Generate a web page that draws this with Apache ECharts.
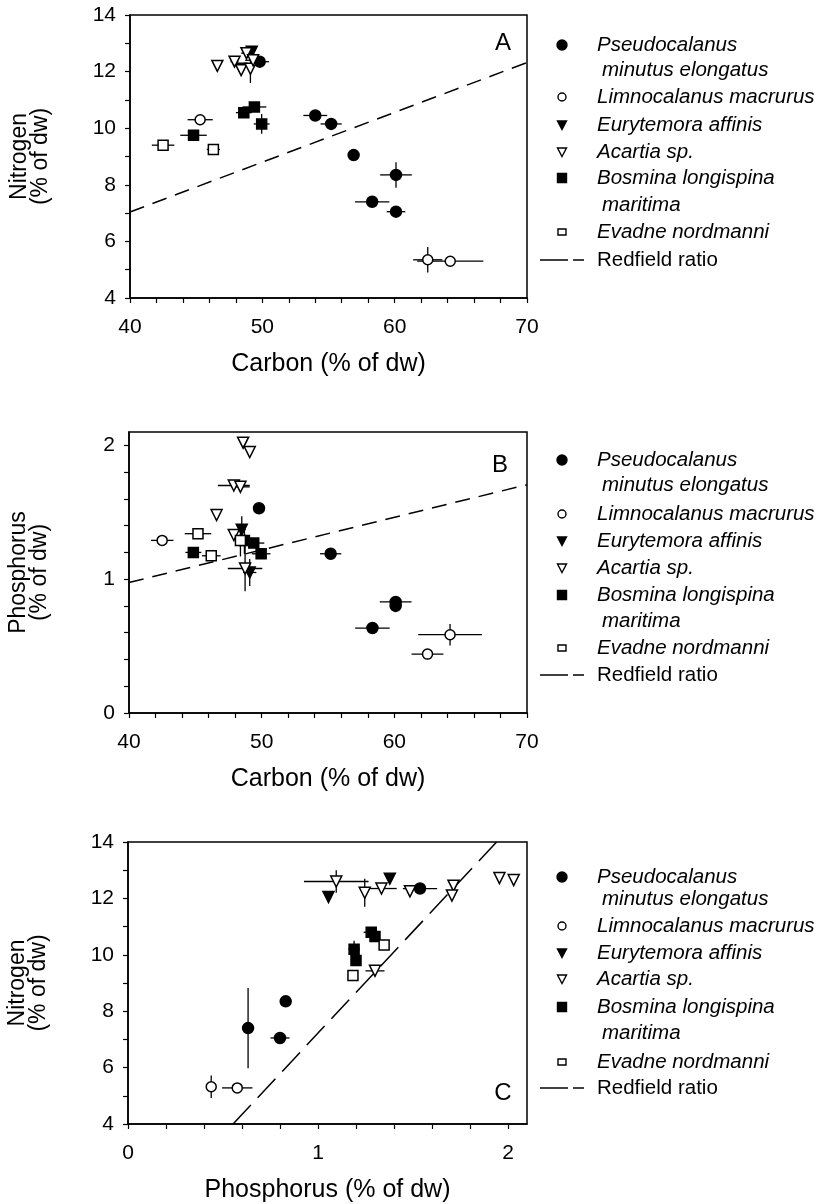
<!DOCTYPE html>
<html><head><meta charset="utf-8">
<script src="https://cdn.jsdelivr.net/npm/echarts@6/dist/echarts.min.js"></script>
<style>html,body{margin:0;padding:0;background:#fff}#c{width:825px;height:1204px}</style>
</head><body><div id="c"></div>
<script>
// ---------- DATA: [x, y, xErr, yErr] ----------
// Panel A: Carbon vs Nitrogen
const pseudoA   = [[54.0,10.45,0.9,0.1],[55.2,10.15,0.8,0],[56.9,9.05,0,0],[60.1,8.35,1.2,0.45],[58.3,7.4,1.3,0.15],[60.1,7.05,0.7,0],[49.8,12.35,0.7,0.1]];
const limnoA    = [[45.3,10.3,0.95,0],[62.5,5.35,1.1,0.45],[64.2,5.3,2.5,0]];
const eurytA    = [[48.4,12.1,0,0],[49.2,12.7,0,0]];
const acartiaA  = [[46.6,12.2,0,0],[47.9,12.35,0.3,0],[48.4,12.05,0,0],[48.8,12.65,0.4,0.1],[49.1,12.1,0,0.5],[49.3,12.4,0.6,0]];
const bosminaA  = [[44.8,9.75,1.0,0],[48.6,10.55,0.6,0],[49.4,10.75,0.9,0.1],[49.95,10.15,0.6,0.35]];
const evadneA   = [[42.5,9.4,0.85,0],[46.3,9.25,0.5,0.1]];
const redfieldA = [[40,7.04],[70,12.32]];

// Panel B: Carbon vs Phosphorus
const pseudoB   = [[49.8,1.53,0.3,0.04],[55.2,1.19,0.8,0],[60.1,0.83,1.2,0.03],[60.1,0.80,0,0],[58.35,0.635,1.3,0]];
const limnoB    = [[42.5,1.29,0.85,0.04],[62.5,0.44,1.2,0],[64.2,0.585,2.4,0.08]];
const eurytB    = [[48.5,1.37,0.3,0.1],[49.1,1.05,0.5,0.1]];
const acartiaB  = [[48.6,2.02,0,0],[49.1,1.95,0,0],[47.9,1.70,1.2,0],[48.4,1.69,0.7,0],[46.6,1.48,0,0],[47.9,1.33,0,0],[48.75,1.08,1.3,0.17]];
const bosminaB  = [[44.85,1.2,0.6,0],[48.7,1.29,0.5,0.1],[49.4,1.27,0.8,0],[49.96,1.19,0.7,0]];
const evadneB   = [[45.2,1.34,1.0,0],[46.2,1.175,0.7,0],[48.4,1.29,0.3,0.12]];
const redfieldB = [[40,0.975],[70,1.706]];

// Panel C: Phosphorus vs Nitrogen
const pseudoC   = [[1.537,12.35,0.09,0],[0.632,7.4,0,1.42],[0.83,8.35,0,0.15],[0.80,7.05,0.05,0]];
const limnoC    = [[0.438,5.32,0,0.4],[0.575,5.28,0.08,0]];
const eurytC    = [[1.055,12.05,0,0],[1.378,12.7,0,0]];
const acartiaC  = [[1.096,12.6,0.17,0.4],[1.246,12.2,0,0.5],[1.334,12.35,0.08,0],[1.484,12.25,0,0],[1.713,12.45,0,0],[1.705,12.1,0,0],[1.955,12.72,0,0],[2.03,12.65,0,0],[1.3,9.43,0.05,0]];
const bosminaC  = [[1.19,10.2,0.03,0.3],[1.2,9.8,0,0],[1.28,10.8,0.04,0],[1.3,10.65,0,0]];
const evadneC   = [[1.184,9.27,0,0],[1.348,10.35,0,0]];
const redfieldC = [[0.553,4],[1.94,14]];

// Ticks / labels
const carbonTicks   = [40,42,44,46,48,50,52,54,56,58,60,62,64,66,68,70];
const carbonLabels  = [40,50,60,70];
const nitroTicks    = [4,5,6,7,8,9,10,11,12,13,14];
const nitroLabels   = [4,6,8,10,12,14];
const phosTicks     = [0,0.2,0.4,0.6,0.8,1,1.2,1.4,1.6,1.8,2];
const phosLabels    = [0,1,2];

const speciesNames = [['Pseudocalanus','minutus elongatus'],['Limnocalanus macrurus'],['Eurytemora affinis'],['Acartia sp.'],['Bosmina longispina','maritima'],['Evadne nordmanni']];
const redfieldName = 'Redfield ratio';
const panelLetters = ['A','B','C'];
const xNames = ['Carbon (% of dw)','Carbon (% of dw)','Phosphorus (% of dw)'];
const yNames = ['Nitrogen\n(% of dw)','Phosphorus\n(% of dw)','Nitrogen\n(% of dw)'];

// ---------- STYLES ----------
const FONT = "'Liberation Sans', Arial, Helvetica, sans-serif";
const styles = [
  {symbol:'circle',   filled:true,  size:11, rot:0},
  {symbol:'circle',   filled:false, size:10, rot:0},
  {symbol:'triangle', filled:true,  size:11, rot:180},
  {symbol:'triangle', filled:false, size:11, rot:180},
  {symbol:'rect',     filled:true,  size:10, rot:0},
  {symbol:'rect',     filled:false, size:10, rot:0}
];

const grids = [
  {left:130, top:15,  width:397, height:283},
  {left:129, top:432, width:398, height:281},
  {left:128, top:842, width:399, height:283}
];

const panels = [
  {data:[pseudoA,limnoA,eurytA,acartiaA,bosminaA,evadneA], red:redfieldA, x:[40,70,carbonTicks,carbonLabels], y:[4,14,nitroTicks,nitroLabels], dash:[15,9]},
  {data:[pseudoB,limnoB,eurytB,acartiaB,bosminaB,evadneB], red:redfieldB, x:[40,70,carbonTicks,carbonLabels], y:[0,2.1,phosTicks,phosLabels], dash:[15,9]},
  {data:[pseudoC,limnoC,eurytC,acartiaC,bosminaC,evadneC], red:redfieldC, x:[0,2.1,phosTicks,phosLabels], y:[4,14,nitroTicks,nitroLabels], dash:[26,10]}
];

function errRender(params, api) {
  const x = api.value(0), y = api.value(1), xe = api.value(2), ye = api.value(3);
  const ch = [];
  const st = {stroke:'#000', lineWidth:1.3};
  if (xe > 0) {
    const a = api.coord([x - xe, y]), b = api.coord([x + xe, y]);
    ch.push({type:'line', shape:{x1:a[0], y1:a[1], x2:b[0], y2:b[1]}, style:st});
  }
  if (ye > 0) {
    const a = api.coord([x, y - ye]), b = api.coord([x, y + ye]);
    ch.push({type:'line', shape:{x1:a[0], y1:a[1], x2:b[0], y2:b[1]}, style:st});
  }
  return {type:'group', children:ch};
}

const xAxes = [], yAxes = [], series = [];
panels.forEach((p, i) => {
  const axisCommon = {
    type:'value', gridIndex:i, splitLine:{show:false},
    axisLine:{show:true, onZero:false, lineStyle:{color:'#000', width:1.5}},
    nameLocation:'middle'
  };
  xAxes.push(Object.assign({}, axisCommon, {
    min:p.x[0], max:p.x[1],
    axisTick:{show:true, inside:false, length:5, customValues:p.x[2], lineStyle:{color:'#000', width:1.2}},
    axisLabel:{customValues:p.x[3], color:'#000', fontSize:21, fontFamily:FONT, margin:19},
    name:xNames[i], nameGap:54,
    nameTextStyle:{color:'#000', fontFamily:FONT, fontSize:25}
  }));
  yAxes.push(Object.assign({}, axisCommon, {
    min:p.y[0], max:p.y[1],
    axisTick:{show:true, inside:false, length:5, customValues:p.y[2], lineStyle:{color:'#000', width:1.2}},
    axisLabel:{customValues:p.y[3], color:'#000', fontSize:21, fontFamily:FONT, margin:14},
    name:yNames[i], nameGap:79,
    nameTextStyle:{color:'#000', fontFamily:FONT, fontSize:23, lineHeight:21}
  }));
  // Redfield line
  series.push({
    type:'line', xAxisIndex:i, yAxisIndex:i, data:p.red, symbol:'none', clip:true, silent:true,
    lineStyle:{color:'#000', width:1.5, type:p.dash}, z:1
  });
  p.data.forEach((d, k) => {
    const s = styles[k];
    series.push({
      type:'custom', xAxisIndex:i, yAxisIndex:i, data:d, renderItem:errRender, clip:true, z:2,
      encode:{x:0, y:1}, silent:true
    });
    series.push({
      type:'scatter', xAxisIndex:i, yAxisIndex:i, data:d, encode:{x:0, y:1},
      symbol:s.symbol, symbolSize:s.size, symbolRotate:s.rot, z:3, silent:true,
      itemStyle:{color:s.filled ? '#000' : '#fff', borderColor:'#000', borderWidth:1.5, opacity:1}
    });
  });
});

// ---------- LEGENDS (drawn as graphics) ----------
const legendRows = [
  [45,70,97,125,152,178,205,232,260],
  [460,485,514,541,568,595,621,648,675],
  [877,899,926,953,979,1007,1033,1062,1088]
];
const letterPos = [[503,43],[500,465],[503,1093]];
const graphics = [];
function markerGraphic(k, cx, cy) {
  const s = styles[k];
  const fill = s.filled ? '#000' : '#fff';
  const st = {fill:fill, stroke:'#000', lineWidth:1.4};
  if (s.symbol === 'circle') return {type:'circle', shape:{cx:cx, cy:cy, r:s.filled?5:4}, style:st};
  if (s.symbol === 'rect') return s.filled ?
     {type:'rect', shape:{x:cx-4.5, y:cy-4.5, width:9, height:9}, style:st} :
     {type:'rect', shape:{x:cx-4, y:cy-3, width:8, height:6}, style:st};
  return {type:'polygon', shape:{points:[[cx-4.5,cy-4],[cx+4.5,cy-4],[cx,cy+4.5]]}, style:st};
}
panels.forEach((p, i) => {
  const r = legendRows[i];
  const rowIdx = [0,2,3,4,5,7];
  speciesNames.forEach((nm, k) => {
    const y0 = r[rowIdx[k]];
    graphics.push(markerGraphic(k, 562, y0));
    graphics.push({type:'text', x:597, y:y0, style:{text:nm[0], fill:'#000', font:'italic 20.5px ' + FONT, textVerticalAlign:'middle'}});
    if (nm[1]) graphics.push({type:'text', x:602, y:r[rowIdx[k]+1], style:{text:nm[1], fill:'#000', font:'italic 20.5px ' + FONT, textVerticalAlign:'middle'}});
  });
  const yr = r[8];
  graphics.push({type:'line', shape:{x1:540, y1:yr, x2:568, y2:yr}, style:{stroke:'#000', lineWidth:1.5}});
  graphics.push({type:'line', shape:{x1:573, y1:yr, x2:584, y2:yr}, style:{stroke:'#000', lineWidth:1.5}});
  graphics.push({type:'text', x:597, y:yr, style:{text:redfieldName, fill:'#000', font:'20.5px ' + FONT, textVerticalAlign:'middle'}});
  graphics.push({type:'text', x:letterPos[i][0], y:letterPos[i][1], style:{text:panelLetters[i], fill:'#000', font:'24px ' + FONT, textAlign:'center', textVerticalAlign:'middle'}});
});

const chart = echarts.init(document.getElementById('c'), null, {renderer:'canvas'});
chart.setOption({
  backgroundColor:'#fff',
  animation:false,
  textStyle:{fontFamily:FONT},
  grid: grids.map(g => Object.assign({show:true, borderColor:'#000', borderWidth:1.5, backgroundColor:'transparent', containLabel:false}, g)),
  xAxis:xAxes, yAxis:yAxes, series:series, graphic:graphics
});
</script></body></html>
